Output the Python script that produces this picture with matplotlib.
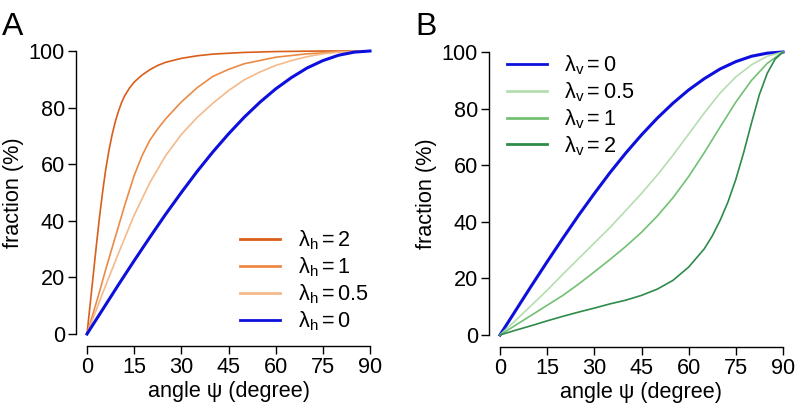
import matplotlib
matplotlib.use("Agg")
from matplotlib import pyplot as plt
from matplotlib.lines import Line2D

plt.rcParams['font.family'] = ['Liberation Sans', 'DejaVu Sans']
plt.rcParams['mathtext.fontset'] = 'custom'
plt.rcParams['mathtext.rm'] = 'Liberation Sans'
plt.rcParams['mathtext.it'] = 'Liberation Sans'

# panel A: horizontal concentration
psi_h2 = [0, 1, 2, 3, 4, 5, 6, 7, 8, 9, 10, 11, 12, 13.5, 15, 17.5, 20, 22.5, 25, 30, 35, 40, 50, 60, 75, 90]
frac_h2 = [0, 10.5, 21, 31.5, 41.5, 50.5, 58.5, 65, 70.5, 75, 78.7, 81.8, 84.2, 86.9, 89, 91.5, 93.4, 94.9, 96, 97.4, 98.3, 98.9, 99.5, 99.8, 100, 100]

psi_h1 = [0, 2, 4, 6, 8, 10, 12, 15, 17.5, 20, 22.5, 25, 30, 35, 40, 45, 50, 60, 70, 80, 90]
frac_h1 = [0, 7.5, 15, 23, 30.5, 38, 45.5, 56, 63, 68.5, 72.5, 76, 82, 87, 91, 93.5, 95.5, 97.8, 99, 99.7, 100]

psi_h05 = [0, 5, 10, 15, 20, 25, 30, 35, 40, 45, 50, 55, 60, 65, 70, 75, 80, 90]
frac_h05 = [0, 14.5, 28.5, 42, 53.5, 63, 70.5, 76.5, 81.5, 86, 89.8, 92.6, 94.9, 96.6, 98, 99, 99.6, 100]

# isotropic case, same in both panels
psi_0 = [0, 5, 10, 15, 20, 25, 30, 35, 40, 45, 50, 55, 60, 65, 70, 75, 80, 85, 90]
frac_0 = [0, 8.7, 17.4, 25.9, 34.2, 42.3, 50, 57.4, 64.3, 70.7, 76.6, 81.9, 86.6, 90.6, 94, 96.6, 98.5, 99.6, 100]

# panel B: vertical concentration
psi_v05 = [0, 5, 10, 15, 20, 25, 30, 35, 40, 45, 50, 55, 60, 65, 70, 75, 80, 85, 90]
frac_v05 = [0, 5.2, 10.5, 15.8, 21.5, 27, 32.5, 38, 44, 50, 56.5, 63.5, 71, 78.5, 85.5, 91.2, 95.5, 98.5, 100]

psi_v1 = [0, 5, 10, 15, 20, 25, 30, 35, 40, 45, 50, 55, 60, 65, 70, 75, 80, 85, 90]
frac_v1 = [0, 3.5, 7, 10.5, 14, 18, 22.3, 26.7, 31.3, 36.3, 42, 48.5, 56, 64.5, 73.5, 82.3, 90, 96, 100]

psi_v2 = [0, 5, 10, 15, 20, 25, 30, 35, 40, 45, 50, 55, 60, 65, 67.5, 70, 72.5, 75, 77.5, 80, 82.5, 85, 87.5, 90]
frac_v2 = [0, 1.7, 3.3, 5, 6.6, 8.1, 9.5, 11, 12.3, 14, 16.2, 19.3, 24, 30.5, 35, 40.5, 47, 55, 64.5, 75, 85, 92.5, 97.5, 100]

xticks = [0, 15, 30, 45, 60, 75, 90]
yticks = [0, 20, 40, 60, 80, 100]

blue = '#0d10dc'
oranges = ['#d95f1a', '#ec8a45', '#f5b98a']
greens = ['#b5deb0', '#72c073', '#2e8b4a']

fs = 15.6

fig = plt.figure(figsize=(7.96, 4.19), dpi=100)
axA = fig.add_axes([87 / 796, 1 - 334 / 419, 283 / 796, 283 / 419])
axB = fig.add_axes([500 / 796, 1 - 335 / 419, 283 / 796, 283 / 419])


def style_axes(ax):
    ax.set_xlim(0, 90)
    ax.set_ylim(0, 100)
    for s in ['top', 'right']:
        ax.spines[s].set_visible(False)
    ax.spines['left'].set_position(('outward', 8))
    ax.spines['bottom'].set_position(('outward', 8.5))
    ax.spines['left'].set_bounds(0, 100)
    ax.spines['bottom'].set_bounds(0, 90)
    for s in ['left', 'bottom']:
        ax.spines[s].set_linewidth(1.0)
    ax.set_xticks(xticks)
    ax.set_yticks(yticks)
    ax.tick_params(direction='out', length=6, width=1.0, labelsize=fs, pad=2)
    ax.set_xlabel('angle ψ (degree)', fontsize=fs, labelpad=2)
    ax.set_ylabel('fraction (%)', fontsize=fs, labelpad=3)


# panel A
axA.plot(psi_h2, frac_h2, color=oranges[0], lw=1.2, clip_on=False)
axA.plot(psi_h1, frac_h1, color=oranges[1], lw=1.2, clip_on=False)
axA.plot(psi_h05, frac_h05, color=oranges[2], lw=1.2, clip_on=False)
axA.plot(psi_0, frac_0, color=blue, lw=2.2, clip_on=False)
style_axes(axA)

handlesA = [Line2D([], [], color=oranges[0], lw=2),
            Line2D([], [], color=oranges[1], lw=2),
            Line2D([], [], color=oranges[2], lw=2),
            Line2D([], [], color=blue, lw=2)]
labelsA = [r'$\mathregular{λ_h = 2}$', r'$\mathregular{λ_h = 1}$',
           r'$\mathregular{λ_h = 0.5}$', r'$\mathregular{λ_h = 0}$']
axA.legend(handlesA, labelsA, loc='upper left', bbox_to_anchor=(0.541, 0.372),
           frameon=False, fontsize=fs, handlelength=1.85, handletextpad=0.8,
           labelspacing=0.15, borderpad=0, borderaxespad=0)

# panel B
axB.plot(psi_0, frac_0, color=blue, lw=2.2, clip_on=False)
axB.plot(psi_v05, frac_v05, color=greens[0], lw=1.2, clip_on=False)
axB.plot(psi_v1, frac_v1, color=greens[1], lw=1.2, clip_on=False)
axB.plot(psi_v2, frac_v2, color=greens[2], lw=1.2, clip_on=False)
style_axes(axB)

handlesB = [Line2D([], [], color=blue, lw=2),
            Line2D([], [], color=greens[0], lw=2),
            Line2D([], [], color=greens[1], lw=2),
            Line2D([], [], color=greens[2], lw=2)]
labelsB = [r'$\mathregular{λ_v = 0}$', r'$\mathregular{λ_v = 0.5}$',
           r'$\mathregular{λ_v = 1}$', r'$\mathregular{λ_v = 2}$']
axB.legend(handlesB, labelsB, loc='upper left', bbox_to_anchor=(0.025, 0.995),
           frameon=False, fontsize=fs, handlelength=1.85, handletextpad=0.8,
           labelspacing=0.15, borderpad=0, borderaxespad=0)

fig.text(2 / 796, 1 - 35 / 419, 'A', fontsize=23, ha='left', va='baseline')
fig.text(415 / 796, 1 - 35 / 419, 'B', fontsize=23, ha='left', va='baseline')

plt.savefig('out.png', dpi=100)
